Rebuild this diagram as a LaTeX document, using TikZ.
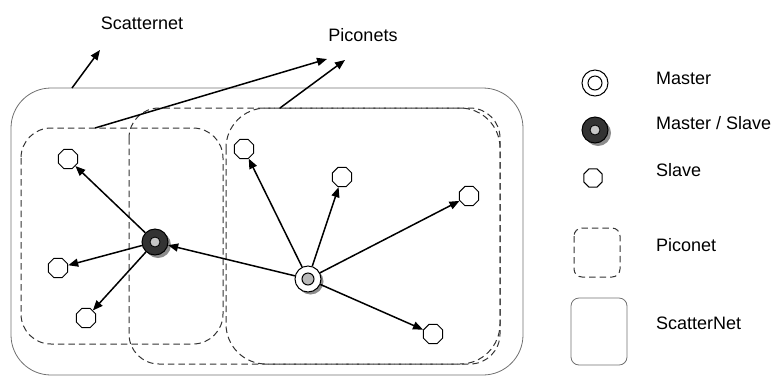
\documentclass[tikz,border=0pt]{standalone}
\usepackage{fontspec}
\setmainfont{Liberation Sans}
\usepackage{tikz}
\usetikzlibrary{arrows.meta,shapes.geometric,shadows}
\definecolor{inkline}{HTML}{000000}
\definecolor{netgrey}{HTML}{707070}
\definecolor{shadegrey}{HTML}{8C8C8C}
\definecolor{ringdark}{HTML}{333333}
\tikzset{
  sn box/.style={draw=netgrey, line width=0.8pt, rounded corners=40pt},
  sn legend/.style={draw=netgrey, line width=0.8pt, rounded corners=8pt},
  pn box/.style={draw=black!80, line width=1pt, dash pattern=on 6.5pt off 4pt, rounded corners=30pt},
  pn legend/.style={pn box, rounded corners=8pt},
  nd slave/.style={regular polygon, regular polygon sides=8, draw=inkline, line width=1pt, fill=white,
                   minimum size=21pt, inner sep=0pt},
  nd master/.style={circle, draw=inkline, line width=1pt, fill=white, minimum size=26pt, inner sep=0pt,
                    drop shadow={shadow xshift=2.5pt, shadow yshift=-2.5pt, fill=shadegrey, opacity=1},
                    path picture={\draw[line width=1pt, fill=gray!55] (path picture bounding box.center) circle (6pt);}},
  nd mslave/.style={circle, draw=inkline, line width=1pt, fill=ringdark, minimum size=26pt, inner sep=0pt,
                    drop shadow={shadow xshift=3pt, shadow yshift=-3pt, fill=shadegrey, opacity=1},
                    path picture={\draw[line width=0.8pt, fill=gray!45] (path picture bounding box.center) circle (5pt);}},
  nd plain/.style={circle, draw=inkline, line width=1pt, fill=white, minimum size=26pt, inner sep=0pt,
                   path picture={\draw[line width=1pt] (path picture bounding box.center) circle (7pt);}},
  lk arr/.style={-{Triangle[length=10pt, width=8pt]}, line width=1.5pt, inkline},
  tx lab/.style={font=\fontsize{18}{21}\selectfont, inner sep=0pt, text height=13pt, text depth=0pt},
}
\begin{document}
\begin{tikzpicture}[x=1pt, y=-1pt]
  \useasboundingbox (0,0) rectangle (776,376);
  % scatternet and the three piconets
  \draw[sn box] (11,88) rectangle (523,375);
  \draw[pn box] (21,128) rectangle (223,344);
  \draw[pn box] (129,108) rectangle (500,364);
  \draw[pn box, rounded corners=40pt] (226,108) rectangle (500,364);
  % devices
  \node[nd mslave] (ms) at (155,242) {};
  \node[nd master] (ma) at (308,279) {};
  \node[nd slave] (s1) at (68,159) {};
  \node[nd slave] (s2) at (58,268) {};
  \node[nd slave] (s3) at (86,318) {};
  \node[nd slave] (s4) at (244,149) {};
  \node[nd slave] (s5) at (342,177) {};
  \node[nd slave] (s6) at (469,196) {};
  \node[nd slave] (s7) at (433,334) {};
  \foreach \b in {s1,s2,s3} \draw[lk arr] (ms) -- (\b);
  \foreach \b in {ms,s4,s5,s6,s7} \draw[lk arr] (ma) -- (\b);
  % callouts
  \node[tx lab] (snlab) at (142,23) {Scatternet};
  \node[tx lab] (pnlab) at (363,35) {Piconets};
  \coordinate (sn-from) at (72,88);
  \coordinate (sn-to) at (100,50);
  \coordinate (pn1-from) at (95,128);
  \coordinate (pn1-to) at (327,59);
  \coordinate (pn2-from) at (280,108);
  \coordinate (pn2-to) at (345,60);
  \draw[lk arr] (sn-from) -- (sn-to);
  \draw[lk arr] (pn1-from) -- (pn1-to);
  \draw[lk arr] (pn2-from) -- (pn2-to);
  % legend
  \node[nd plain] (lg-ma) at (595,83) {};
  \node[nd mslave] (lg-ms) at (595,130) {};
  \node[nd slave, minimum size=20pt] (lg-sl) at (593,178) {};
  \draw[pn legend] (574,228) rectangle (620,277);
  \draw[sn legend] (571,298) rectangle (627,365);
  \node[tx lab, anchor=west] (lt-ma) at (656,78) {Master};
  \node[tx lab, anchor=west] (lt-ms) at (656,123) {Master / Slave};
  \node[tx lab, anchor=west] (lt-sl) at (656,170) {Slave};
  \node[tx lab, anchor=west] (lt-pn) at (656,245) {Piconet};
  \node[tx lab, anchor=west] (lt-sn) at (656,323) {ScatterNet};
\end{tikzpicture}
\end{document}
